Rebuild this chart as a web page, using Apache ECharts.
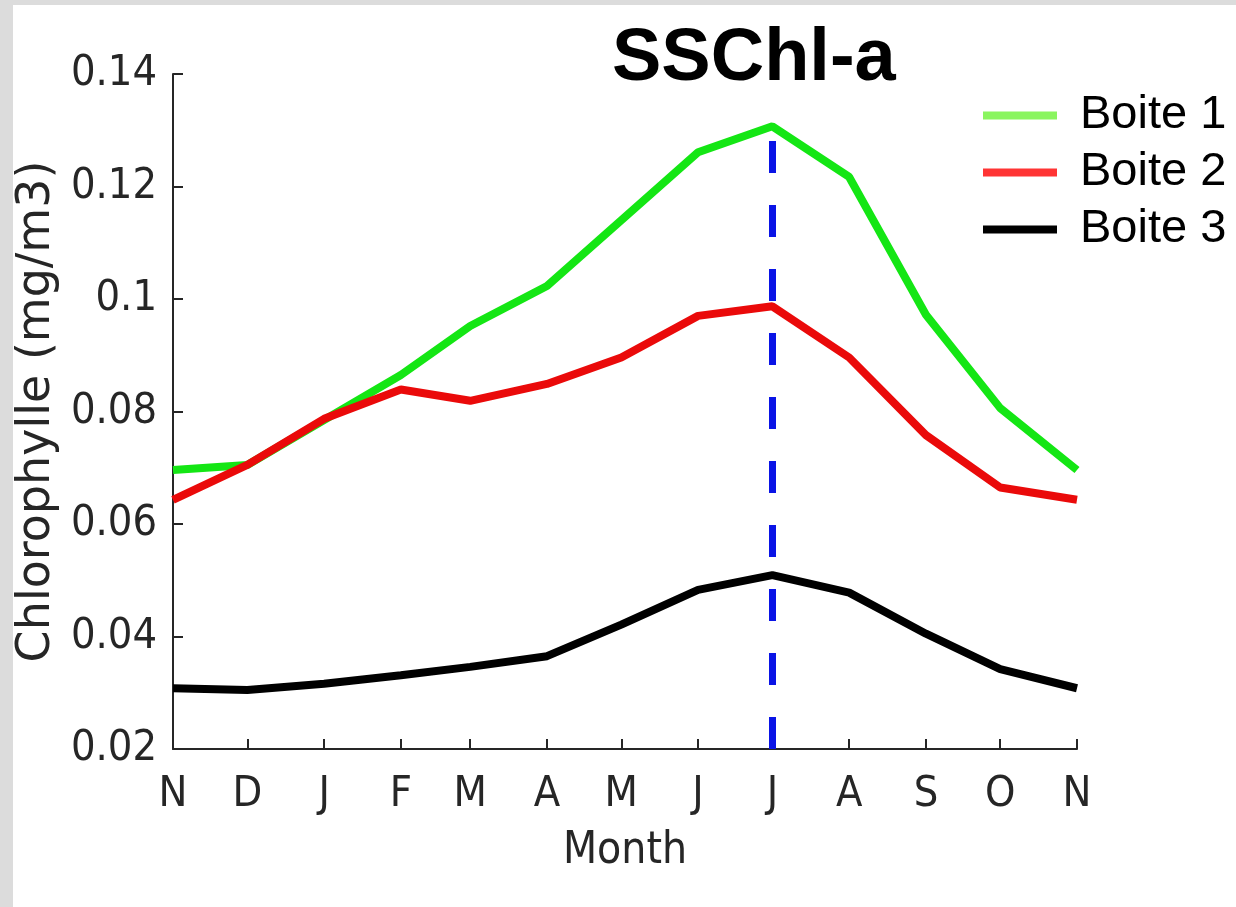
<!DOCTYPE html>
<html>
<head>
<meta charset="utf-8">
<title>SSChl-a</title>
<script src="https://cdn.jsdelivr.net/npm/echarts@6/dist/echarts.min.js"></script>
<style>
  html, body { margin: 0; padding: 0; background: #ffffff; }
  #chart { width: 1236px; height: 907px; }
</style>
</head>
<body>
<div id="chart"></div>
<script>
// Month letters and their day offsets from 1 November
const monthLabels = ['N', 'D', 'J', 'F', 'M', 'A', 'M', 'J', 'J', 'A', 'S', 'O', 'N'];
const monthDays = [0, 30, 61, 92, 120, 151, 181, 212, 242, 273, 304, 334, 365];

// Monthly surface chlorophyll-a (mg/m3) per box
const boite1 = [0.0696, 0.0705, 0.0785, 0.0865, 0.0952, 0.1023, 0.1140, 0.1261, 0.1307, 0.1217, 0.0972, 0.0806, 0.0696];
const boite2 = [0.0643, 0.0705, 0.0787, 0.0839, 0.0819, 0.0849, 0.0896, 0.0970, 0.0987, 0.0896, 0.0758, 0.0665, 0.0643];
const boite3 = [0.0308, 0.0305, 0.0316, 0.0331, 0.0346, 0.0365, 0.0421, 0.0483, 0.0509, 0.0478, 0.0405, 0.0342, 0.0308];

// Peak marker (July)
const peakDay = 242;
const peakLineTop = 0.1290;

const yTicks = { min: 0.02, max: 0.14, step: 0.02 };

const tickFont = "'DejaVu Sans Condensed', 'DejaVu Sans', sans-serif";
const nameFont = "'DejaVu Sans', sans-serif";
const axisColor = '#262626';

const pairs = vals => vals.map((v, i) => [monthDays[i], v]);

const chart = echarts.init(document.getElementById('chart'), null, { renderer: 'canvas' });

chart.setOption({
  animation: false,
  backgroundColor: '#ffffff',
  graphic: [
    { type: 'rect', left: 0, top: 0, shape: { width: 13, height: 907 }, style: { fill: '#dcdcdc' }, z: -10 },
    { type: 'rect', left: 0, top: 0, shape: { width: 1236, height: 5 }, style: { fill: '#dcdcdc' }, z: -10 }
  ],
  title: {
    text: 'SSChl-a',
    left: 612,
    top: 23,
    padding: 0,
    textStyle: { fontFamily: "'Liberation Sans', Arial, sans-serif", fontWeight: 'bold', fontSize: 74, color: '#000000' }
  },
  legend: {
    orient: 'vertical',
    left: 983,
    top: 92,
    padding: 0,
    itemWidth: 74,
    itemHeight: 8,
    itemGap: 10,
    textStyle: { fontFamily: "'Liberation Sans', Arial, sans-serif", fontSize: 47, lineHeight: 44, color: '#000000', padding: [0, 0, 0, 18] },
    data: [
      { name: 'Boite 1', icon: 'rect', itemStyle: { color: '#8af55f' } },
      { name: 'Boite 2', icon: 'rect', itemStyle: { color: '#ff3434' } },
      { name: 'Boite 3', icon: 'rect', itemStyle: { color: '#000000' } }
    ]
  },
  grid: { left: 173, top: 74, width: 904, height: 675, containLabel: false, outerBoundsMode: 'none' },
  xAxis: {
    type: 'value',
    min: monthDays[0],
    max: monthDays[monthDays.length - 1],
    name: 'Month',
    nameLocation: 'middle',
    nameGap: 81,
    nameTextStyle: { fontFamily: tickFont, fontSize: 44, color: axisColor },
    axisLine: { show: true, lineStyle: { color: axisColor, width: 2 } },
    axisTick: { show: true, inside: true, length: 10, lineStyle: { color: axisColor, width: 2 }, customValues: monthDays },
    axisLabel: {
      customValues: monthDays,
      margin: 24,
      fontFamily: tickFont,
      fontSize: 43,
      color: axisColor,
      formatter: v => monthLabels[monthDays.indexOf(Math.round(v))] || ''
    },
    splitLine: { show: false }
  },
  yAxis: {
    type: 'value',
    min: yTicks.min,
    max: yTicks.max,
    interval: yTicks.step,
    name: 'Chlorophylle (mg/m3)',
    nameLocation: 'middle',
    nameGap: 104,
    nameTextStyle: { fontFamily: nameFont, fontSize: 46, color: axisColor },
    axisLine: { show: true, lineStyle: { color: axisColor, width: 2 } },
    axisTick: { show: true, inside: true, length: 10, lineStyle: { color: axisColor, width: 2 } },
    axisLabel: {
      margin: 16,
      fontFamily: tickFont,
      fontSize: 43,
      color: axisColor,
      formatter: v => String(+v.toFixed(2))
    },
    splitLine: { show: false }
  },
  series: [
    {
      name: 'Boite 1', type: 'line', data: pairs(boite1), showSymbol: false, symbol: 'none',
      lineStyle: { color: '#14e614', width: 8 }, itemStyle: { color: '#14e614' }, z: 3
    },
    {
      name: 'Boite 2', type: 'line', data: pairs(boite2), showSymbol: false, symbol: 'none',
      lineStyle: { color: '#ea0a0a', width: 8 }, itemStyle: { color: '#ea0a0a' }, z: 4
    },
    {
      name: 'Boite 3', type: 'line', data: pairs(boite3), showSymbol: false, symbol: 'none',
      lineStyle: { color: '#000000', width: 8 }, itemStyle: { color: '#000000' }, z: 4,
      markLine: {
        silent: true,
        symbol: 'none',
        label: { show: false },
        lineStyle: { color: '#0a14e6', width: 7, type: [32, 32] },
        data: [[{ coord: [peakDay, yTicks.min] }, { coord: [peakDay, peakLineTop] }]]
      }
    }
  ]
});
</script>
</body>
</html>
